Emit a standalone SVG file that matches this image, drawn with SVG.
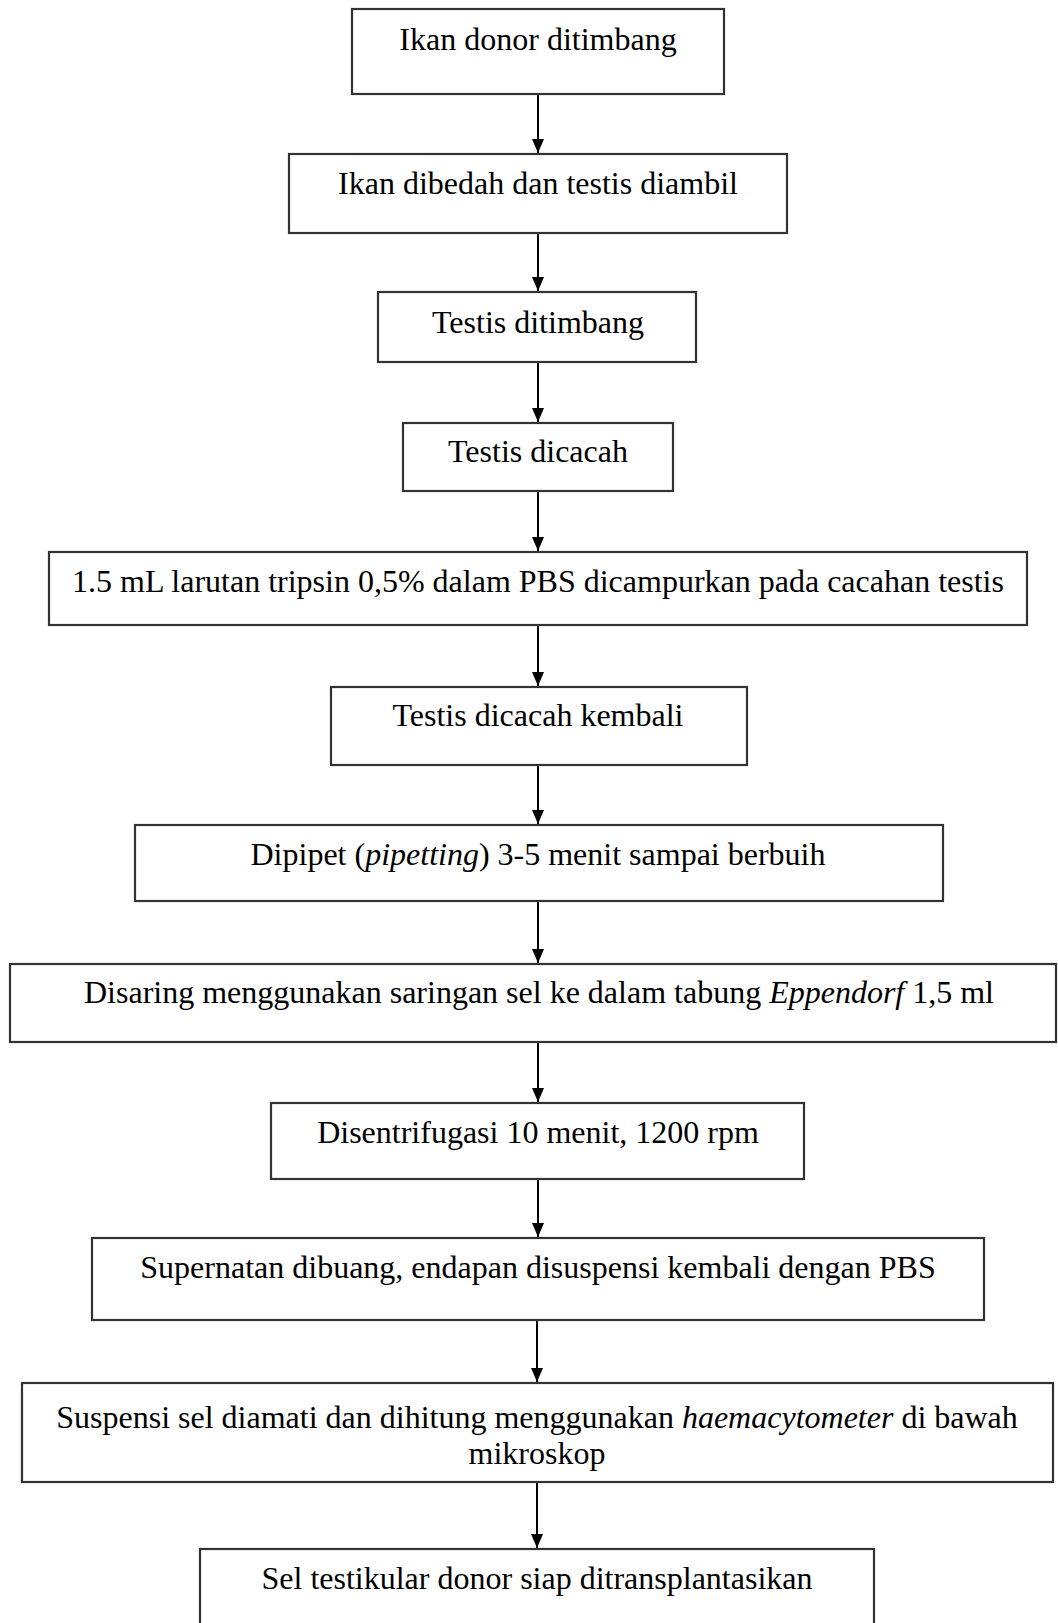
<svg xmlns="http://www.w3.org/2000/svg" width="1058" height="1623" viewBox="0 0 1058 1623">
<style>
.box{fill:#fff;stroke:#333;stroke-width:2.2}
.t{font-family:"Liberation Serif","Times New Roman",serif;font-size:32px;fill:#000;text-anchor:middle}
.i{font-style:italic}
.c{stroke:#000;stroke-width:2;fill:none;marker-end:url(#ah)}
</style>
<defs>
<marker id="ah" markerWidth="14" markerHeight="12" refX="14" refY="6" orient="auto" markerUnits="userSpaceOnUse" viewBox="0 0 14 12">
<path d="M0,0 L14,6 L0,12 Z" fill="#000"/>
</marker>
</defs>
<rect width="1058" height="1623" fill="#fff"/>
<g id="connectors">
<line class="c" x1="538" y1="94" x2="538" y2="153"/>
<line class="c" x1="538" y1="233" x2="538" y2="291"/>
<line class="c" x1="538" y1="362" x2="538" y2="422"/>
<line class="c" x1="538" y1="491" x2="538" y2="551"/>
<line class="c" x1="538" y1="625" x2="538" y2="686"/>
<line class="c" x1="538" y1="765" x2="538" y2="824"/>
<line class="c" x1="538" y1="901" x2="538" y2="963"/>
<line class="c" x1="538" y1="1042" x2="538" y2="1102"/>
<line class="c" x1="538" y1="1179" x2="538" y2="1237"/>
<line class="c" x1="537" y1="1320" x2="537" y2="1382"/>
<line class="c" x1="537" y1="1482" x2="537" y2="1548"/>
</g>
<g id="n1"><rect class="box" x="352" y="9" width="372" height="85"/><text class="t" x="538" y="50">Ikan donor ditimbang</text></g>
<g id="n2"><rect class="box" x="289" y="154" width="498" height="79"/><text class="t" x="538" y="194">Ikan dibedah dan testis diambil</text></g>
<g id="n3"><rect class="box" x="378" y="292" width="318" height="70"/><text class="t" x="538" y="333">Testis ditimbang</text></g>
<g id="n4"><rect class="box" x="403" y="423" width="270" height="68"/><text class="t" x="538" y="462">Testis dicacah</text></g>
<g id="n5"><rect class="box" x="49" y="552" width="978" height="73"/><text class="t" x="538" y="592">1.5 mL larutan tripsin 0,5% dalam PBS dicampurkan pada cacahan testis</text></g>
<g id="n6"><rect class="box" x="331" y="687" width="416" height="78"/><text class="t" x="538" y="726">Testis dicacah kembali</text></g>
<g id="n7"><rect class="box" x="135" y="825" width="808" height="76"/><text class="t" x="538" y="865">Dipipet (<tspan class="i">pipetting</tspan>) 3-5 menit sampai berbuih</text></g>
<g id="n8"><rect class="box" x="10" y="964" width="1046" height="78"/><text class="t" x="539" y="1003">Disaring menggunakan saringan sel ke dalam tabung <tspan class="i">Eppendorf</tspan> 1,5 ml</text></g>
<g id="n9"><rect class="box" x="271" y="1103" width="533" height="76"/><text class="t" x="538" y="1143">Disentrifugasi 10 menit, 1200 rpm</text></g>
<g id="n10"><rect class="box" x="92" y="1238" width="892" height="82"/><text class="t" x="538" y="1278">Supernatan dibuang, endapan disuspensi kembali dengan PBS</text></g>
<g id="n11"><rect class="box" x="22" y="1383" width="1031" height="99"/><text class="t" x="537" y="1428">Suspensi sel diamati dan dihitung menggunakan <tspan class="i">haemacytometer</tspan> di bawah</text><text class="t" x="537" y="1464">mikroskop</text></g>
<g id="n12"><rect class="box" x="200" y="1549" width="674" height="90"/><text class="t" x="537" y="1589">Sel testikular donor siap ditransplantasikan</text></g>
</svg>
